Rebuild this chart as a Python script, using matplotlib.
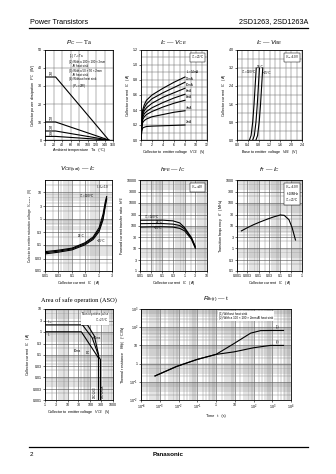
import numpy as np
import matplotlib.pyplot as plt

plt.rcParams['font.family'] = ['Liberation Sans', 'DejaVu Sans']
plt.rcParams['mathtext.fontset'] = 'custom'
plt.rcParams['mathtext.rm'] = 'Liberation Sans'
plt.rcParams['mathtext.it'] = 'Liberation Sans:italic'
plt.rcParams['axes.linewidth'] = 0.6

# ---- data ----
# Pc - Ta
ta_points = [0, 25, 150]
pc_tc_eq_ta = [35, 35, 0]
pc_heatsink_100 = [10, 10, 0]
pc_heatsink_50 = [5, 5, 0]
pc_no_heatsink = [2, 2, 0]

# Ic - Vce
vce_points = [0, 0.15, 0.3, 0.6, 1, 2, 4, 6, 8]
ic_ib14 = [0, 0.28, 0.40, 0.47, 0.53, 0.60, 0.69, 0.77, 0.84]
ic_ib12 = [0, 0.26, 0.36, 0.43, 0.48, 0.55, 0.63, 0.70, 0.77]
ic_ib10 = [0, 0.24, 0.33, 0.39, 0.43, 0.49, 0.57, 0.63, 0.69]
ic_ib8 = [0, 0.22, 0.30, 0.35, 0.38, 0.43, 0.50, 0.56, 0.61]
ic_ib6 = [0, 0.20, 0.27, 0.31, 0.34, 0.38, 0.44, 0.49, 0.53]
ic_ib4 = [0, 0.17, 0.23, 0.26, 0.28, 0.31, 0.34, 0.37, 0.39]
ic_ib2 = [0, 0.12, 0.16, 0.17, 0.18, 0.185, 0.19, 0.195, 0.20]
ib_labels = ['$I_B$=14mA', '12mA', '10mA', '8mA', '6mA', '4mA', '2mA']

# Ic - Vbe
ic_vbe_current = [0, 0.2, 0.8, 1.6, 2.4, 3.2]
vbe_100c = [0.46, 0.52, 0.58, 0.63, 0.67, 0.71]
vbe_25c = [0.58, 0.64, 0.70, 0.75, 0.79, 0.83]
vbe_m25c = [0.70, 0.76, 0.82, 0.87, 0.91, 0.95]

# Vce(sat) - Ic
vsat_ic = [0.01, 0.03, 0.1, 0.3, 0.6, 1.0, 1.4, 1.7, 1.9]
vsat_100c = [0.055, 0.062, 0.075, 0.12, 0.20, 0.45, 1.5, 4.5, 7.0]
vsat_25c = [0.050, 0.057, 0.070, 0.11, 0.18, 0.38, 1.1, 3.5, 6.0]
vsat_m25c = [0.045, 0.052, 0.064, 0.10, 0.16, 0.32, 0.9, 3.0, 5.5]

# hFE - Ic
hfe_ic = [0.01, 0.03, 0.1, 0.3, 0.6, 1, 2, 3]
hfe_100c = [170, 172, 172, 160, 130, 80, 30, 12]
hfe_25c = [120, 122, 122, 115, 100, 70, 28, 11]
hfe_m25c = [85, 87, 88, 85, 75, 58, 25, 10]

# fT - Ic
ft_ic = [0.0016, 0.003, 0.006, 0.012, 0.025, 0.05, 0.1, 0.15, 0.25, 0.35, 0.5]
ft_mhz = [5.8, 8, 11, 14.5, 19, 24, 29, 28, 18, 8, 2.3]

# ASO
aso_1ms_v = [1, 75, 150, 230, 230]
aso_1ms_i = [2, 2, 0.65, 0.1, 0.001]
aso_10ms_v = [45, 120, 230]
aso_10ms_i = [2, 0.55, 0.09]
aso_dc_v = [1, 40, 230]
aso_dc_i = [1, 1, 0.07]
aso_a_v = [230, 280, 280]
aso_a_i = [0.08, 0.06, 0.001]

# Rth - t
rth_t1 = [5.6e-4, 8e-3, 0.1, 1, 9, 70, 240, 1000, 4000]
rth_1 = [0.21, 0.7, 1.7, 3.2, 12.5, 47, 65, 66, 66]
rth_t2 = [5.6e-4, 8e-3, 0.1, 1, 9, 100, 800, 4000]
rth_2 = [0.21, 0.7, 1.7, 3.2, 4.4, 7.4, 10, 10]

# tick labels
log_labels_vsat = ['0.01', '0.03', '0.1', '0.3', '1', '3', '10']
log_labels_hfe = ['1', '3', '10', '30', '100', '300', '1000', '3000', '10000']
log_labels_ft = ['0.1', '0.3', '1', '3', '10', '30', '100', '300', '1000']
log_labels_aso = ['0.001', '0.003', '0.01', '0.03', '0.1', '0.3', '1', '3', '10']

W, H = 336, 474
fig = plt.figure(figsize=(W / 100, H / 100), dpi=100)

TICK = 2.6
LAB = 2.7
BOX = dict(boxstyle='square,pad=0.3', fc='white', ec='black', lw=0.35)


def frame(left, top, right, bottom, title, title_y):
    ax = fig.add_axes([left / W, 1 - bottom / H, (right - left) / W, (bottom - top) / H])
    ax.tick_params(labelsize=TICK, length=1.2, width=0.4, pad=1)
    ax.tick_params(which='minor', length=0)
    fig.text((left + right) / 2 / W, 1 - title_y / H, title, ha='center', va='center',
             fontsize=4.6, family='Liberation Serif')
    return ax


def log_grid(ax):
    ax.grid(True, which='major', color='0.3', lw=0.4)
    ax.grid(True, which='minor', color='0.5', lw=0.3)
    ax.set_axisbelow(True)


def lin_grid(ax):
    ax.grid(True, which='both', color='0.4', lw=0.35)
    ax.set_axisbelow(True)


def log_ticks(ax, axis, labels):
    vals = [float(s) for s in labels]
    if axis == 'x':
        ax.set_xticks(vals)
        ax.set_xticklabels(labels)
    else:
        ax.set_yticks(vals)
        ax.set_yticklabels(labels)


# ---- header / footer ----
fig.text(30 / W, 1 - 22 / H, 'Power Transistors', fontsize=5.2, ha='left', va='center')
fig.text(308 / W, 1 - 22 / H, '2SD1263, 2SD1263A', fontsize=5.2, ha='right', va='center')
fig.add_artist(plt.Line2D([29 / W, 308 / W], [1 - 28 / H, 1 - 28 / H], color='black', lw=0.9))
fig.add_artist(plt.Line2D([29 / W, 308 / W], [1 - 447 / H, 1 - 447 / H], color='black', lw=0.9))
fig.text(30 / W, 1 - 455 / H, '2', fontsize=4.5, ha='left', va='center')
fig.text(168 / W, 1 - 455 / H, 'Panasonic', fontsize=4.5, ha='center', va='center', weight='bold')

# ---- Pc - Ta ----
ax = frame(45, 50, 113, 140, '$P_C$ — Ta', 43)
for pc, tag, ty in [(pc_tc_eq_ta, '(1)', 36.2), (pc_heatsink_100, '(2)', 11.2),
                    (pc_heatsink_50, '(3)', 6.2), (pc_no_heatsink, '(4)', 2.6)]:
    ax.plot(ta_points, pc, color='black', lw=0.8)
    ax.text(8, ty, tag, fontsize=2.4)
ax.set_xlim(0, 160)
ax.set_ylim(0, 50)
ax.set_xticks(np.arange(0, 161, 20))
ax.set_yticks(np.arange(0, 51, 10))
lin_grid(ax)
ax.text(56, 49, '(1) $T_C$=Ta\n(2) With a 100 × 100 × 2mm\n     Al heat sink\n'
        '(3) With a 50 × 50 × 2mm\n     Al heat sink\n(4) Without heat sink\n     ($P_C$=2W)',
        fontsize=2.1, va='top', linespacing=1.1)
ax.set_xlabel('Ambient temperature   Ta   (°C)', fontsize=LAB, labelpad=1)
ax.set_ylabel('Collector power dissipation   $P_C$   (W)', fontsize=LAB, labelpad=1)

# ---- Ic - Vce ----
ax = frame(141, 50, 207, 140, '$I_C$ — $V_{CE}$', 43)
for ic, lab in zip([ic_ib14, ic_ib12, ic_ib10, ic_ib8, ic_ib6, ic_ib4, ic_ib2], ib_labels):
    ax.plot(vce_points, ic, color='black', lw=0.8)
    ax.text(8.2, ic[-1] + 0.015, lab, fontsize=2.2, va='bottom')
ax.set_xlim(0, 12)
ax.set_ylim(0, 1.2)
ax.set_xticks(np.arange(0, 13, 2))
ax.set_xticks(np.arange(0, 13, 1), minor=True)
ax.set_yticks(np.arange(0, 1.21, 0.2))
ax.set_yticks(np.arange(0, 1.21, 0.1), minor=True)
lin_grid(ax)
ax.text(0.96, 0.96, '$T_C$=25°C', transform=ax.transAxes, fontsize=2.2, ha='right', va='top', bbox=BOX)
ax.set_xlabel('Collector to emitter voltage   $V_{CE}$   (V)', fontsize=LAB, labelpad=1)
ax.set_ylabel('Collector current   $I_C$   (A)', fontsize=LAB, labelpad=1)

# ---- Ic - Vbe ----
ax = frame(237, 50, 302, 140, '$I_C$ — $V_{BE}$', 43)
for vbe in [vbe_100c, vbe_25c, vbe_m25c]:
    ax.plot(vbe, ic_vbe_current, color='black', lw=0.8)
ax.text(0.16, 2.95, '$T_C$=100°C', fontsize=2.2)
ax.text(0.74, 3.2, '25°C', fontsize=2.2)
ax.text(0.95, 2.95, '−25°C', fontsize=2.2)
ax.set_xlim(0, 2.4)
ax.set_ylim(0, 4.0)
ax.set_xticks(np.arange(0, 2.41, 0.4))
ax.set_xticks(np.arange(0, 2.41, 0.2), minor=True)
ax.set_yticks(np.arange(0, 4.01, 0.8))
ax.set_yticks(np.arange(0, 4.01, 0.4), minor=True)
lin_grid(ax)
ax.text(0.96, 0.96, '$V_{CE}$=10V', transform=ax.transAxes, fontsize=2.2, ha='right', va='top', bbox=BOX)
ax.set_xlabel('Base to emitter voltage   $V_{BE}$   (V)', fontsize=LAB, labelpad=1)
ax.set_ylabel('Collector current   $I_C$   (A)', fontsize=LAB, labelpad=1)

# ---- Vce(sat) - Ic ----
ax = frame(45, 180, 112, 271, '$V_{CE(sat)}$ — $I_C$', 170)
for v in [vsat_100c, vsat_25c, vsat_m25c]:
    ax.plot(vsat_ic, v, color='black', lw=0.8)
ax.set_xscale('log')
ax.set_yscale('log')
ax.set_xlim(0.01, 3)
ax.set_ylim(0.01, 30)
log_ticks(ax, 'x', ['0.01', '0.03', '0.1', '0.3', '1', '3'])
log_ticks(ax, 'y', log_labels_vsat)
log_grid(ax)
ax.text(0.95, 0.96, '$I_C$/$I_B$=10', transform=ax.transAxes, fontsize=2.2, ha='right', va='top')
ax.text(0.7, 6.5, '$T_C$=100°C', fontsize=2.2, ha='right')
ax.text(0.17, 0.2, '25°C', fontsize=2.2)
ax.text(0.8, 0.13, '−25°C', fontsize=2.2)
ax.set_xlabel('Collector current   $I_C$   (A)', fontsize=LAB, labelpad=1)
ax.set_ylabel('Collector to emitter saturation voltage   $V_{CE(sat)}$   (V)', fontsize=2.3, labelpad=1)

# ---- hFE - Ic ----
ax = frame(140, 180, 207, 271, '$h_{FE}$ — $I_C$', 170)
for h in [hfe_100c, hfe_25c, hfe_m25c]:
    ax.plot(hfe_ic, h, color='black', lw=0.8)
ax.set_xscale('log')
ax.set_yscale('log')
ax.set_xlim(0.01, 10)
ax.set_ylim(1, 10000)
log_ticks(ax, 'x', ['0.01', '0.03', '0.1', '0.3', '1', '3', '10'])
log_ticks(ax, 'y', log_labels_hfe)
log_grid(ax)
ax.text(0.015, 200, '$T_C$=100°C', fontsize=2.2)
ax.text(0.05, 126, '25°C', fontsize=2.2)
ax.text(0.04, 68, '−25°C', fontsize=2.2)
ax.text(0.95, 0.96, '$V_{CE}$=4V', transform=ax.transAxes, fontsize=2.2, ha='right', va='top', bbox=BOX)
ax.set_xlabel('Collector current   $I_C$   (A)', fontsize=LAB, labelpad=1)
ax.set_ylabel('Forward current transfer ratio   $h_{FE}$', fontsize=LAB, labelpad=1)

# ---- fT - Ic ----
ax = frame(237, 180, 302, 271, '$f_T$ — $I_C$', 170)
ax.plot(ft_ic, ft_mhz, color='black', lw=0.8)
ax.set_xscale('log')
ax.set_yscale('log')
ax.set_xlim(0.001, 1)
ax.set_ylim(0.1, 1000)
log_ticks(ax, 'x', ['0.001', '0.003', '0.01', '0.03', '0.1', '0.3', '1'])
log_ticks(ax, 'y', log_labels_ft)
log_grid(ax)
ax.text(0.95, 0.96, '$V_{CE}$=10V\nf=10MHz\n$T_C$=25°C', transform=ax.transAxes, fontsize=2.2,
        ha='right', va='top', bbox=BOX, linespacing=1.1)
ax.set_xlabel('Collector current   $I_C$   (A)', fontsize=LAB, labelpad=1)
ax.set_ylabel('Transition frequency   $f_T$   (MHz)', fontsize=LAB, labelpad=1)

# ---- ASO ----
ax = frame(45, 309, 113, 400, 'Area of safe operation (ASO)', 300)
ax.plot(aso_1ms_v, aso_1ms_i, color='black', lw=0.8)
ax.plot(aso_10ms_v, aso_10ms_i, color='black', lw=0.8)
ax.plot(aso_dc_v, aso_dc_i, color='black', lw=0.8)
ax.plot(aso_a_v, aso_a_i, color='black', lw=0.8)
ax.set_xscale('log')
ax.set_yscale('log')
ax.set_xlim(1, 1000)
ax.set_ylim(0.001, 10)
log_ticks(ax, 'x', ['1', '3', '10', '30', '100', '300', '1000'])
log_ticks(ax, 'y', log_labels_aso)
log_grid(ax)
ax.text(1.2, 2.4, '$I_{CP}$', fontsize=2.2)
ax.text(1.2, 0.6, '$I_C$', fontsize=2.2)
ax.text(130, 0.5, 't=1ms', fontsize=2.2)
ax.text(18, 0.13, '10ms', fontsize=2.2)
ax.text(60, 0.11, 'DC', fontsize=2.2)
ax.text(200, 0.0012, '2SD1263', fontsize=2.0, rotation=90, ha='right', va='bottom')
ax.text(300, 0.0012, '2SD1263A', fontsize=2.0, rotation=90, ha='left', va='bottom')
ax.text(0.93, 0.97, 'Non repetitive pulse\n$T_C$=25°C', transform=ax.transAxes, fontsize=2.1,
        ha='right', va='top', bbox=dict(boxstyle='square,pad=0.2', fc='white', ec='none'))
ax.set_xlabel('Collector to emitter voltage   $V_{CE}$   (V)', fontsize=LAB, labelpad=1)
ax.set_ylabel('Collector current   $I_C$   (A)', fontsize=LAB, labelpad=1)

# ---- Rth - t ----
ax = frame(141, 309, 291, 400, '$R_{th(t)}$ — t', 300)
ax.plot(rth_t1, rth_1, color='black', lw=0.8)
ax.plot(rth_t2, rth_2, color='black', lw=0.8)
ax.set_xscale('log')
ax.set_yscale('log')
ax.set_xlim(1e-4, 1e4)
ax.set_ylim(1e-2, 1e3)
ax.set_xticks([1e-4, 1e-3, 1e-2, 1e-1, 1, 10, 1e2, 1e3, 1e4])
ax.set_xticklabels(['$10^{-4}$', '$10^{-3}$', '$10^{-2}$', '$10^{-1}$', '1', '10',
                    '$10^{2}$', '$10^{3}$', '$10^{4}$'])
ax.set_yticks([1e-2, 1e-1, 1, 10, 1e2, 1e3])
ax.set_yticklabels(['$10^{-2}$', '$10^{-1}$', '1', '10', '$10^{2}$', '$10^{3}$'])
log_grid(ax)
ax.text(1500, 90, '(1)', fontsize=2.2)
ax.text(1500, 13, '(2)', fontsize=2.2)
ax.text(0.52, 0.97, '(1) Without heat sink\n(2) With a 100 × 100 × 2mm Al heat sink',
        transform=ax.transAxes, fontsize=2.2, ha='left', va='top', linespacing=1.2,
        bbox=dict(boxstyle='square,pad=0.2', fc='white', ec='none'))
ax.set_xlabel('Time   t   (s)', fontsize=LAB, labelpad=1)
ax.set_ylabel('Thermal resistance   $R_{th(t)}$   (°C/W)', fontsize=LAB, labelpad=1)

plt.savefig('out.png', dpi=100)
